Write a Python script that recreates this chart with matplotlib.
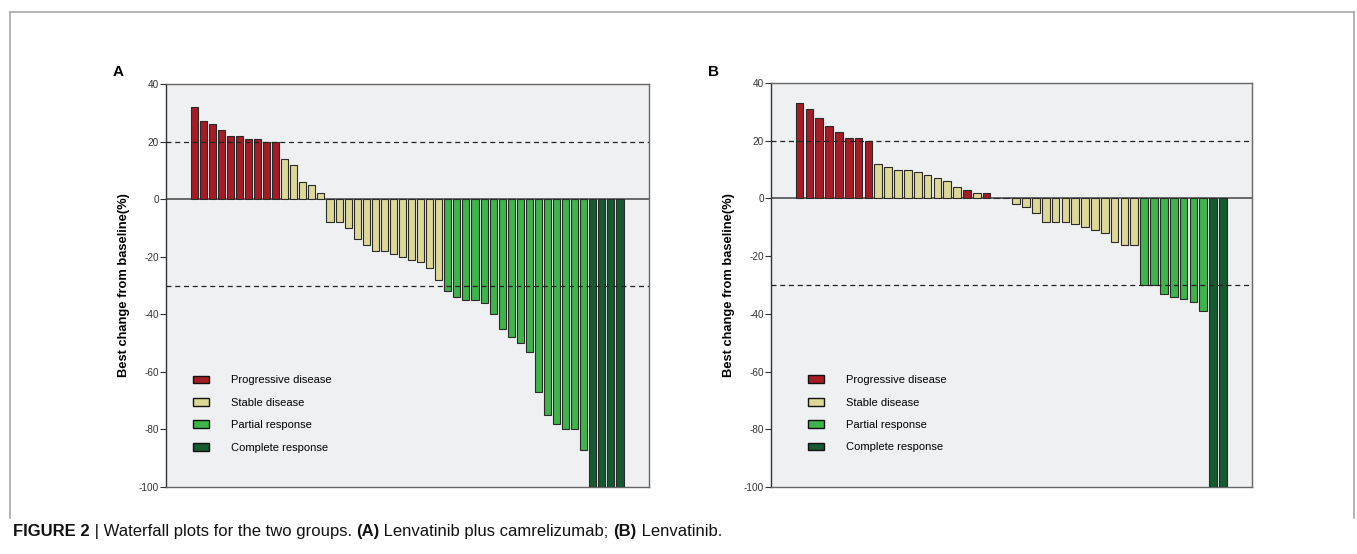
import matplotlib
matplotlib.use("Agg")
import matplotlib.pyplot as plt
from matplotlib.patches import Patch

plt.rcParams['font.family'] = ['Liberation Sans', 'DejaVu Sans']

# response categories: P progressive, S stable, R partial, C complete
labels = ['Progressive disease', 'Stable disease', 'Partial response', 'Complete response']
colors = {'P': '#a51c24', 'S': '#ded896', 'R': '#3db54a', 'C': '#165a30'}

a_values = [32, 27, 26, 24, 22, 22, 21, 21, 20, 20,
            14, 12, 6, 5, 2,
            -8, -8, -10, -14, -16, -18, -18, -19, -20, -21, -22, -24, -28,
            -32, -34, -35, -35, -36, -40, -45, -48, -50, -53, -67, -75, -78, -80, -80, -87,
            -100, -100, -100, -100]
a_cats = ['P'] * 10 + ['S'] * 5 + ['S'] * 13 + ['R'] * 16 + ['C'] * 4

b_values = [33, 31, 28, 25, 23, 21, 21, 20,
            12, 11, 10, 10, 9, 8, 7, 6, 4,
            3, 2, 2, 0, 0,
            -2, -3, -5, -8, -8, -8, -9, -10, -11, -12, -15, -16, -16,
            -30, -30, -33, -34, -35, -36, -39,
            -100, -100]
b_cats = (['P'] * 8 + ['S'] * 9 + ['P', 'S', 'P', 'S', 'S'] + ['S'] * 13
          + ['R'] * 7 + ['C'] * 2)

yticks = [40, 20, 0, -20, -40, -60, -80, -100]

W, H = 1357, 554
fig = plt.figure(figsize=(W / 100, H / 100), dpi=100)

# outer frame of the figure panel
frame = dict(color='#a8a8a8', lw=1.2, transform=fig.transFigure, clip_on=False)
fig.add_artist(plt.Line2D([10 / W, 10 / W], [1 - 12 / H, 1 - 518 / H], **frame))
fig.add_artist(plt.Line2D([10 / W, 1354 / W], [1 - 12 / H, 1 - 12 / H], **frame))
fig.add_artist(plt.Line2D([1354 / W, 1354 / W], [1 - 12 / H, 1 - 518 / H], **frame))


def waterfall(ax, values, cats, xpad_left, xpad_right, leg_x):
    x = list(range(len(values)))
    ax.set_facecolor('#eef0f2')
    ax.bar(x, values, width=0.78, color=[colors[c] for c in cats],
           edgecolor='#2a2a2a', linewidth=0.8, zorder=3)
    ax.axhline(0, color='#444444', lw=1.1, zorder=2)
    ax.axhline(20, color='#222222', lw=0.9, ls=(0, (4, 3)), zorder=4)
    ax.axhline(-30, color='#222222', lw=0.9, ls=(0, (4, 3)), zorder=4)
    ax.set_xlim(-xpad_left, len(values) - 1 + xpad_right)
    ax.set_ylim(-100, 40)
    ax.set_yticks(yticks)
    ax.set_yticklabels([str(t) for t in yticks], fontsize=7.2, color='#333333')
    ax.tick_params(axis='y', length=4, width=0.8, pad=1, colors='#333333')
    ax.set_xticks([])
    for s in ax.spines.values():
        s.set_color('#666666')
        s.set_linewidth(1.0)
    ax.spines['left'].set_color('#333333')
    ax.set_ylabel('Best change from baseline(%)', fontsize=9.3, fontweight='bold',
                  labelpad=6)
    handles = [Patch(facecolor=colors[c], edgecolor='#111111', linewidth=1.0)
               for c in ['P', 'S', 'R', 'C']]
    ax.legend(handles, labels, loc='upper left', bbox_to_anchor=(leg_x, 0.277),
              frameon=False, fontsize=8, handlelength=1.4, handleheight=0.7,
              labelspacing=1.12, handletextpad=2.0, borderpad=0, borderaxespad=0)


ax1 = fig.add_axes([166 / W, 1 - 487 / H, (649 - 166) / W, (487 - 84) / H])
waterfall(ax1, a_values, a_cats, 3.1, 3.2, 0.056)
ax2 = fig.add_axes([771 / W, 1 - 487 / H, (1252 - 771) / W, (487 - 83) / H])
waterfall(ax2, b_values, b_cats, 2.9, 2.95, 0.077)

fig.text(118 / W, 1 - 72 / H, 'A', fontsize=11, fontweight='bold', ha='center', va='center')
fig.text(713 / W, 1 - 72 / H, 'B', fontsize=11, fontweight='bold', ha='center', va='center')

# caption built from bold and regular pieces
caption = [('FIGURE 2', 'bold'), (' | Waterfall plots for the two groups. ', 'normal'),
           ('(A)', 'bold'), (' Lenvatinib plus camrelizumab; ', 'normal'),
           ('(B)', 'bold'), (' Lenvatinib.', 'normal')]
fig.canvas.draw()
renderer = fig.canvas.get_renderer()
xpos = 13
for txt, wt in caption:
    t = fig.text(xpos / W, 1 - 536 / H, txt, fontsize=12, fontweight=wt,
                 va='baseline', ha='left', color='#111111')
    bb = t.get_window_extent(renderer)
    xpos += bb.width

fig.savefig('out.png', dpi=100)
